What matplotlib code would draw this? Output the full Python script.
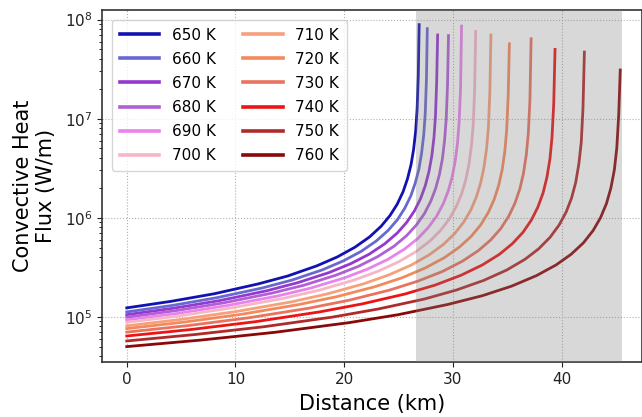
import matplotlib
matplotlib.use("Agg")
import matplotlib.pyplot as plt

# temperature of each run and its line colour
temps = [650, 660, 670, 680, 690, 700, 710, 720, 730, 740, 750, 760]
colors = ['#1212b0', '#6868d0', '#9438d0', '#b060d4', '#e882ec', '#f6b6c8',
          '#f6a07c', '#f48a5c', '#e8735f', '#ec1414', '#b02a2a', '#8b0808']

# distance (km) and convective heat flux (W/m) along each run
dist_650 = [0, 4.04, 8.07, 12.11, 14.80, 17.49, 19.37, 20.98, 22.33, 23.40, 24.21, 24.88, 25.42, 25.82, 26.15, 26.39, 26.58, 26.71, 26.82, 26.9]
flux_650 = [1.23e5, 1.43e5, 1.71e5, 2.15e5, 2.58e5, 3.27e5, 4.02e5, 5.03e5, 6.39e5, 8.20e5, 1.05e6, 1.37e6, 1.83e6, 2.46e6, 3.42e6, 4.91e6, 7.52e6, 1.24e7, 2.73e7, 8.9e7]

dist_660 = [0, 4.15, 8.30, 12.44, 15.21, 17.97, 19.91, 21.57, 22.95, 24.06, 24.89, 25.58, 26.13, 26.54, 26.88, 27.12, 27.32, 27.46, 27.57, 27.65]
flux_660 = [1.12e5, 1.30e5, 1.56e5, 1.95e5, 2.35e5, 2.97e5, 3.66e5, 4.58e5, 5.82e5, 7.47e5, 9.53e5, 1.25e6, 1.66e6, 2.24e6, 3.11e6, 4.47e6, 6.85e6, 1.13e7, 2.49e7, 8.1e7]

dist_670 = [0, 4.29, 8.58, 12.87, 15.73, 18.59, 20.59, 22.31, 23.74, 24.88, 25.74, 26.46, 27.03, 27.46, 27.80, 28.06, 28.26, 28.40, 28.51, 28.6]
flux_670 = [1.05e5, 1.22e5, 1.46e5, 1.83e5, 2.21e5, 2.79e5, 3.43e5, 4.29e5, 5.46e5, 7.00e5, 8.94e5, 1.17e6, 1.56e6, 2.10e6, 2.92e6, 4.19e6, 6.42e6, 1.06e7, 2.33e7, 7.0e7]

dist_680 = [0, 4.44, 8.88, 13.32, 16.28, 19.24, 21.31, 23.09, 24.57, 25.75, 26.64, 27.38, 27.97, 28.42, 28.77, 29.04, 29.24, 29.39, 29.51, 29.6]
flux_680 = [9.9e4, 1.15e5, 1.38e5, 1.73e5, 2.08e5, 2.63e5, 3.23e5, 4.05e5, 5.14e5, 6.60e5, 8.43e5, 1.10e6, 1.47e6, 1.98e6, 2.75e6, 3.95e6, 6.05e6, 9.99e6, 2.20e7, 6.9e7]

dist_690 = [0, 4.62, 9.24, 13.86, 16.94, 20.02, 22.18, 24.02, 25.56, 26.80, 27.72, 28.49, 29.11, 29.57, 29.94, 30.21, 30.43, 30.58, 30.71, 30.8]
flux_690 = [9.3e4, 1.08e5, 1.30e5, 1.62e5, 1.95e5, 2.47e5, 3.04e5, 3.80e5, 4.83e5, 6.20e5, 7.92e5, 1.03e6, 1.38e6, 1.86e6, 2.59e6, 3.71e6, 5.69e6, 9.38e6, 2.06e7, 8.6e7]

dist_700 = [0, 4.82, 9.63, 14.45, 17.66, 20.87, 23.11, 25.04, 26.64, 27.93, 28.89, 29.69, 30.33, 30.82, 31.20, 31.49, 31.71, 31.88, 32.00, 32.1]
flux_700 = [8.8e4, 1.02e5, 1.23e5, 1.54e5, 1.85e5, 2.34e5, 2.88e5, 3.60e5, 4.57e5, 5.87e5, 7.49e5, 9.79e5, 1.31e6, 1.76e6, 2.45e6, 3.51e6, 5.38e6, 8.88e6, 1.95e7, 7.6e7]

dist_710 = [0, 5.03, 10.05, 15.08, 18.43, 21.78, 24.12, 26.13, 27.81, 29.15, 30.15, 30.99, 31.66, 32.16, 32.56, 32.86, 33.10, 33.27, 33.40, 33.5]
flux_710 = [8.1e4, 9.42e4, 1.13e5, 1.41e5, 1.70e5, 2.15e5, 2.65e5, 3.31e5, 4.21e5, 5.40e5, 6.89e5, 9.01e5, 1.20e6, 1.62e6, 2.25e6, 3.23e6, 4.95e6, 8.17e6, 1.80e7, 7.0e7]

dist_720 = [0, 5.28, 10.56, 15.84, 19.36, 22.88, 25.34, 27.46, 29.22, 30.62, 31.68, 32.56, 33.26, 33.79, 34.21, 34.53, 34.78, 34.95, 35.09, 35.2]
flux_720 = [7.6e4, 8.84e4, 1.06e5, 1.33e5, 1.60e5, 2.02e5, 2.48e5, 3.11e5, 3.95e5, 5.07e5, 6.47e5, 8.45e5, 1.13e6, 1.52e6, 2.11e6, 3.03e6, 4.65e6, 7.67e6, 1.69e7, 5.7e7]

dist_730 = [0, 5.58, 11.16, 16.74, 20.46, 24.18, 26.78, 29.02, 30.88, 32.36, 33.48, 34.41, 35.15, 35.71, 36.16, 36.49, 36.75, 36.94, 37.09, 37.2]
flux_730 = [7.0e4, 8.14e4, 9.75e4, 1.22e5, 1.47e5, 1.86e5, 2.29e5, 2.86e5, 3.64e5, 4.67e5, 5.96e5, 7.78e5, 1.04e6, 1.40e6, 1.95e6, 2.79e6, 4.28e6, 7.06e6, 1.55e7, 6.4e7]

dist_740 = [0, 5.91, 11.82, 17.73, 21.67, 25.61, 28.37, 30.73, 32.70, 34.28, 35.46, 36.45, 37.23, 37.82, 38.30, 38.65, 38.93, 39.12, 39.28, 39.4]
flux_740 = [6.4e4, 7.44e4, 8.92e4, 1.12e5, 1.35e5, 1.70e5, 2.09e5, 2.62e5, 3.33e5, 4.27e5, 5.45e5, 7.12e5, 9.50e5, 1.28e6, 1.78e6, 2.55e6, 3.91e6, 6.46e6, 1.42e7, 5.0e7]

dist_750 = [0, 6.32, 12.63, 18.95, 23.16, 27.37, 30.31, 32.84, 34.94, 36.63, 37.89, 38.94, 39.78, 40.42, 40.92, 41.30, 41.59, 41.81, 41.97, 42.1]
flux_750 = [5.7e4, 6.63e4, 7.94e4, 9.94e4, 1.20e5, 1.51e5, 1.86e5, 2.33e5, 2.96e5, 3.80e5, 4.85e5, 6.34e5, 8.46e5, 1.14e6, 1.58e6, 2.27e6, 3.49e6, 5.75e6, 1.27e7, 4.7e7]

dist_760 = [0, 6.81, 13.62, 20.43, 24.97, 29.51, 32.69, 35.41, 37.68, 39.50, 40.86, 42.00, 42.90, 43.58, 44.13, 44.54, 44.86, 45.08, 45.26, 45.4]
flux_760 = [5.0e4, 5.82e4, 6.97e4, 8.72e4, 1.05e5, 1.33e5, 1.63e5, 2.04e5, 2.60e5, 3.34e5, 4.26e5, 5.56e5, 7.42e5, 9.98e5, 1.39e6, 2.00e6, 3.06e6, 5.05e6, 1.11e7, 3.1e7]

dists = [dist_650, dist_660, dist_670, dist_680, dist_690, dist_700,
         dist_710, dist_720, dist_730, dist_740, dist_750, dist_760]
fluxes = [flux_650, flux_660, flux_670, flux_680, flux_690, flux_700,
          flux_710, flux_720, flux_730, flux_740, flux_750, flux_760]

# shaded distance band
band_start, band_end = 26.6, 45.6

fig = plt.figure(figsize=(6.42, 4.17), dpi=100)
ax = fig.add_axes([0.159, 0.132, 0.841, 0.844])

for T, c, d, q in zip(temps, colors, dists, fluxes):
    ax.plot(d, q, color=c, lw=2.0, label='{} K'.format(T), zorder=2)

ax.axvspan(band_start, band_end, color='gray', alpha=0.3, lw=0, zorder=3)

ax.set_yscale('log')
ax.set_xlim(-2.27, 47.4)
ax.set_ylim(3.5e4, 1.25e8)
ax.set_xticks([0, 10, 20, 30, 40])
ax.grid(True, which='major', ls=':', color='#b0b0b0', lw=0.8, zorder=1)
ax.set_axisbelow(True)

ax.tick_params(axis='both', labelsize=11, colors='#222222')
for s in ax.spines.values():
    s.set_color('#333333')
    s.set_linewidth(1.2)

ax.set_xlabel('Distance (km)', fontsize=15, labelpad=5)
ax.set_ylabel('Convective Heat\nFlux (W/m)', fontsize=15, labelpad=6)

leg = ax.legend(loc='upper left', ncol=2, fontsize=11, handlelength=2.6,
                columnspacing=1.8, labelspacing=0.6, borderpad=0.5,
                borderaxespad=0.3, frameon=True, fancybox=True,
                bbox_to_anchor=(0.01, 0.985))
leg.get_frame().set_edgecolor('#cccccc')
for line in leg.get_lines():
    line.set_linewidth(2.6)

fig.savefig('out.png', dpi=100)
